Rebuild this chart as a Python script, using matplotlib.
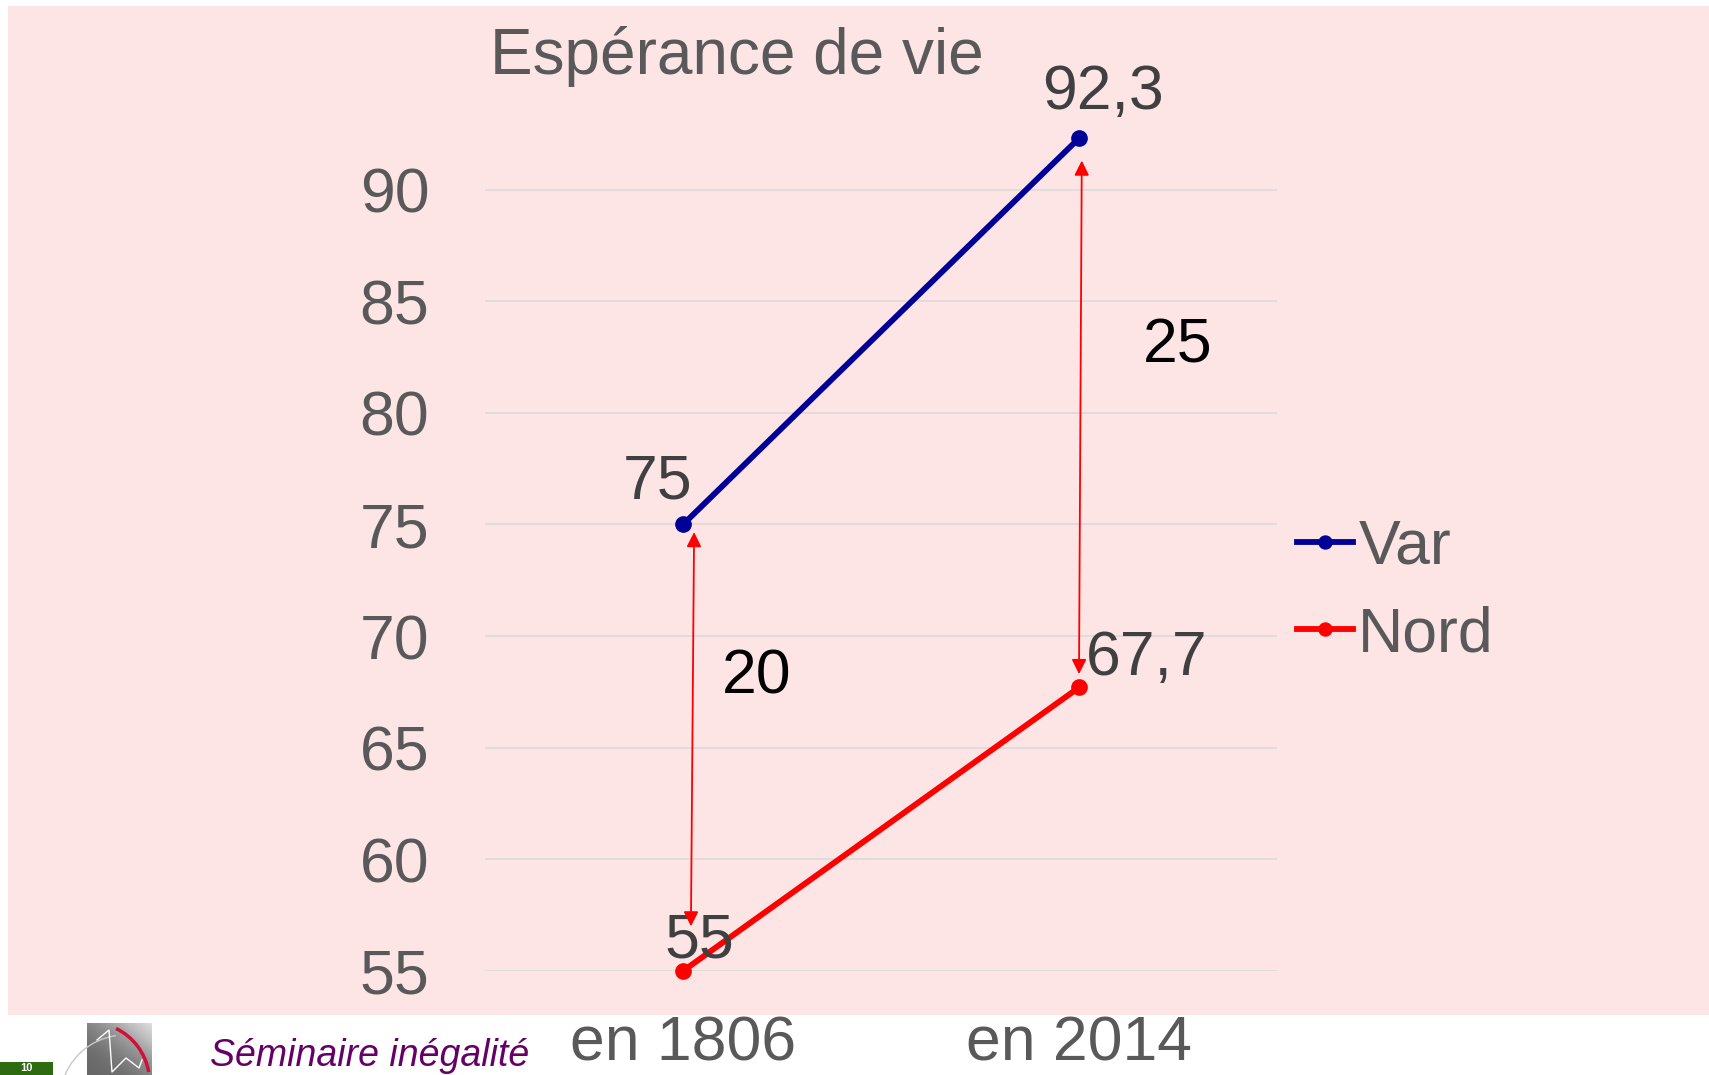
import matplotlib
matplotlib.use('Agg')
import numpy as np
import matplotlib.pyplot as plt
from matplotlib.patches import Rectangle, Arc
from matplotlib.lines import Line2D

plt.rcParams['font.family'] = ['Liberation Sans', 'DejaVu Sans']

categories = ['en 1806', 'en 2014']
var_values = [75, 92.3]
nord_values = [55, 67.7]
var_labels = ['75', '92,3']
nord_labels = ['55', '67,7']
gaps = [20, 25]
yticks = [55, 60, 65, 70, 75, 80, 85, 90]

grey_txt = '#595959'
blue = '#000099'
red = '#ff0000'
pink = '#fde5e5'

W, H = 1709, 1075
fig = plt.figure(figsize=(W / 100, H / 100), dpi=100)
fig.patch.set_facecolor('white')

# pink slide background
fig.patches.append(Rectangle((8 / W, 1 - 1015 / H), 1 - 8 / W, (1015 - 6) / H,
                             transform=fig.transFigure, facecolor=pink,
                             edgecolor='none', zorder=-10))

ax = fig.add_axes([485 / W, 1 - 971 / H, 792 / W, (971 - 78) / H])
ax.set_facecolor('none')
x = range(len(categories))

ax.plot(x, var_values, color=blue, lw=4.2, marker='o', ms=11, label='Var',
        clip_on=False, zorder=3)
ax.plot(x, nord_values, color=red, lw=4.2, marker='o', ms=11, label='Nord',
        clip_on=False, zorder=3)

ax.set_xlim(-0.5, 1.5)
ax.set_ylim(55, 95)
ax.set_yticks(yticks)
ax.set_xticks(list(x))
ax.set_xticklabels(categories)
ax.grid(axis='y', color='#d9d9d9', lw=1.1)
ax.set_axisbelow(True)
for s in ax.spines.values():
    s.set_visible(False)
ax.tick_params(axis='y', length=0, pad=40, labelsize=45, labelcolor=grey_txt)
ax.tick_params(axis='x', length=0, pad=31, labelsize=45, labelcolor=grey_txt)

# data labels
offs_var = [(-18, 19), (17, 21)]
offs_nord = [(12, 10), (49, 9)]
for i in x:
    ax.annotate(var_labels[i], (i, var_values[i]), xytext=offs_var[i],
                textcoords='offset points', ha='center', va='baseline',
                fontsize=45, color='#404040')
    ax.annotate(nord_labels[i], (i, nord_values[i]), xytext=offs_nord[i],
                textcoords='offset points', ha='center', va='baseline',
                fontsize=45, color='#404040')

# gap arrows
ax.annotate('', xy=(0.028, 74.66), xytext=(0.020, 57.0),
            arrowprops=dict(arrowstyle='<|-|>', color=red, lw=1.3,
                            mutation_scale=22, shrinkA=0, shrinkB=0))
ax.annotate('', xy=(1.007, 91.3), xytext=(1.0, 68.3),
            arrowprops=dict(arrowstyle='<|-|>', color=red, lw=1.3,
                            mutation_scale=22, shrinkA=0, shrinkB=0))
ax.text(0.186, 67.45, str(gaps[0]), ha='center', va='baseline', fontsize=45,
        color='black')
ax.text(1.25, 82.25, str(gaps[1]), ha='center', va='baseline', fontsize=45,
        color='black')

# legend
ax.legend(loc='center left', bbox_to_anchor=(1297 / W, 1 - 591 / H),
          bbox_transform=fig.transFigure, frameon=False, fontsize=45,
          handlelength=0.9, handletextpad=0.08, labelspacing=0.45,
          borderpad=0, borderaxespad=0, labelcolor=grey_txt, markerscale=0.85)

# title
fig.text(490 / W, 1 - 74 / H, 'Espérance de vie', fontsize=46, color=grey_txt,
         ha='left', va='baseline')

# footer: page number box
fig.patches.append(Rectangle((0, 0), 53 / W, 13 / H, transform=fig.transFigure,
                             facecolor='#2e6b10', edgecolor='none'))
fig.text(26 / W, 1 - 1063 / H, '10', fontsize=8, color='white',
         fontweight='bold', ha='center', va='top')

# footer: logo
lax = fig.add_axes([87 / W, 0, 65 / W, 52 / H])
gx, gy = np.meshgrid(np.linspace(0, 1, 60), np.linspace(0, 1, 50))
shade = (gx * 0.5 + (1 - gy) * 0.5) ** 2
lax.imshow(shade, cmap='Greys_r', vmin=-0.75, vmax=1.5,
           extent=(0, 1, 0, 1), aspect='auto', origin='upper')
lax.axis('off')
fig.patches.append(Arc((90 / W, 1 - 1082 / H), 119 / W, 119 / H, theta1=15,
                       theta2=73, transform=fig.transFigure, color='#d0103a',
                       lw=2.5))
fig.patches.append(Arc((125 / W, 1 - 1100 / H), 130 / W, 130 / H, theta1=95,
                       theta2=160, transform=fig.transFigure, color='#c8c8c8',
                       lw=1.0))
fig.lines.append(Line2D([97 / W, 109 / W, 112 / W, 126 / W, 139 / W, 142 / W],
                        [1 - 1040 / H, 1 - 1030 / H, 1 - 1072 / H,
                         1 - 1058 / H, 1 - 1068 / H, 1 - 1060 / H],
                        transform=fig.transFigure, color='white', lw=1.0))
fig.text(210 / W, 1 - 1066 / H, 'Séminaire inégalité', fontsize=27,
         color='#660066', style='italic', ha='left', va='baseline')

fig.savefig('out.png', dpi=100)
